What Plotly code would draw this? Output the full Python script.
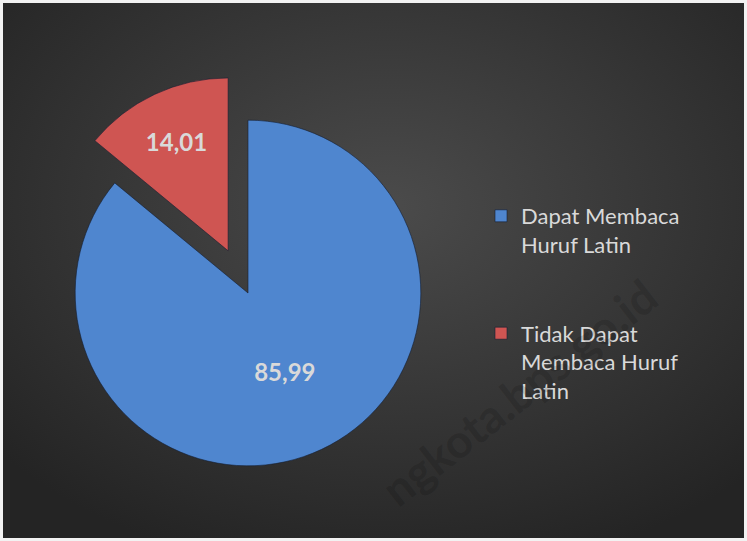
import base64
import plotly.graph_objects as go

# Data
labels = ["Dapat Membaca<br>Huruf Latin<br> <br> ", "Tidak Dapat<br>Membaca Huruf<br>Latin"]
values = [85.99, 14.01]
value_text = ["85,99", "14,01"]
pulls = [0, 0.27]
colors = ["#4f86cf", "#cf5552"]

W, H = 747, 541

svg = f'''<svg xmlns="http://www.w3.org/2000/svg" width="{W}" height="{H}">
<defs><radialGradient id="g" cx="52%" cy="38%" r="70%">
<stop offset="0%" stop-color="#4b4b4b"/><stop offset="100%" stop-color="#242424"/>
</radialGradient></defs>
<rect width="{W}" height="{H}" fill="url(#g)"/></svg>'''
bg_src = "data:image/svg+xml;base64," + base64.b64encode(svg.encode()).decode()

fig = go.Figure()
fig.add_trace(go.Pie(
    labels=labels,
    values=values,
    text=value_text,
    texttemplate="%{text}",
    textposition="inside",
    insidetextorientation="horizontal",
    textfont=dict(family="Lato", size=24, color="#d9d9d9", weight="bold"),
    pull=pulls,
    sort=False,
    direction="clockwise",
    rotation=0,
    marker=dict(colors=colors, line=dict(color="rgba(20,30,50,0.6)", width=1)),
    domain=dict(x=[28.5 / W, 467.5 / W], y=[1 - 512.5 / H, 1 - 73.5 / H]),
    hoverinfo="skip",
))

fig.update_layout(
    width=W, height=H,
    margin=dict(l=0, r=0, t=0, b=0),
    paper_bgcolor="#f2f2f2",
    plot_bgcolor="rgba(0,0,0,0)",
    showlegend=True,
    legend=dict(
        x=481 / W, y=1 - 195 / H, xanchor="left", yanchor="top",
        font=dict(family="Lato", size=22, color="#d9d9d9"),
        bgcolor="rgba(0,0,0,0)",
        valign="top",
        itemwidth=30,
        tracegroupgap=0,
    ),
    images=[dict(
        source=bg_src, xref="paper", yref="paper",
        x=3 / W, y=1 - 3 / H, sizex=(W - 6) / W, sizey=(H - 6) / H,
        xanchor="left", yanchor="top", sizing="stretch", layer="below",
    )],
    annotations=[dict(
        text="ngkota.bps.go.id", x=518 / W, y=1 - 392 / H, xref="paper", yref="paper",
        xanchor="center", yanchor="middle",
        showarrow=False, textangle=-38,
        font=dict(family="Lato", size=46, color="rgba(0,0,0,0.15)", weight="bold"),
    )],
)

fig.write_html(
    "out.html",
    config={"displayModeBar": False},
    post_script="document.body.style.margin='0';document.body.style.overflow='hidden';",
)
